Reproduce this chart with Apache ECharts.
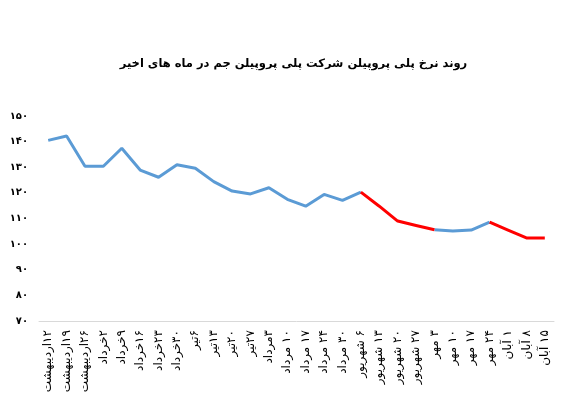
<!DOCTYPE html>
<html>
<head>
<meta charset="utf-8">
<script src="https://cdn.jsdelivr.net/npm/echarts@6/dist/echarts.min.js"></script>
<style>
html, body { margin: 0; padding: 0; background: #fff; }
#chart { width: 587px; height: 397px; }
</style>
</head>
<body>
<div id="chart"></div>
<script>
var categories = ['۱۲اردیبهشت', '۱۹اردیبهشت', '۲۶اردیبهشت', '۲خرداد', '۹خرداد', '۱۶خرداد', '۲۳خرداد', '۳۰خرداد',
    '۶تیر', '۱۳تیر', '۲۰تیر', '۲۷تیر', '۳مرداد', '۱۰ مرداد', '۱۷ مرداد', '۲۴ مرداد', '۳۰ مرداد',
    '۶ شهریور', '۱۳ شهریور', '۲۰ شهریور', '۲۷ شهریور', '۳ مهر', '۱۰ مهر', '۱۷ مهر', '۲۴ مهر',
    '۱ آبان', '۸ آبان', '۱۵ آبان'];
var prices = [140.5, 142.2, 130.4, 130.4, 137.4, 128.9, 126.1, 131.0, 129.6, 124.4, 120.7, 119.6, 122.0, 117.5,
    114.8, 119.4, 117.1, 120.3, 114.8, 109.0, 107.3, 105.6, 105.1, 105.5, 108.6, 105.5, 102.4, 102.4];
// بازه‌های قرمز (اندیس شروع و پایان)
var redRanges = [[17, 21], [24, 27]];

function isRed(i) {
    return redRanges.some(function (r) { return i >= r[0] && i <= r[1]; });
}
function inRedSeg(i) {
    return redRanges.some(function (r) { return i > r[0] && i < r[1]; });
}
var blueData = prices.map(function (v, i) { return inRedSeg(i) ? null : v; });
var redData = prices.map(function (v, i) { return isRed(i) ? v : null; });

function faNum(n) {
    return String(n).replace(/\d/g, function (d) { return '۰۱۲۳۴۵۶۷۸۹'[d]; });
}

var chart = echarts.init(document.getElementById('chart'));
var option = {
    animation: false,
    textStyle: { fontFamily: 'DejaVu Sans' },
    title: {
        text: 'روند نرخ پلی پروپیلن شرکت پلی پروپیلن جم در ماه های اخیر',
        left: 'center',
        top: 53,
        textStyle: { fontSize: 11.5, fontWeight: 'bold', color: '#000', fontFamily: 'DejaVu Sans' }
    },
    grid: { left: 39, right: 33, top: 116, bottom: 76 },
    xAxis: {
        type: 'category',
        data: categories,
        axisLine: { lineStyle: { color: '#d9d9d9' } },
        axisTick: { show: false },
        axisLabel: {
            rotate: 90, interval: 0, fontSize: 12, color: '#000', margin: 9,
            formatter: function (v) { return '\u200F' + v; }
        }
    },
    yAxis: {
        type: 'value',
        min: 70,
        max: 150,
        interval: 10,
        splitLine: { show: false },
        axisLine: { show: false },
        axisTick: { show: false },
        axisLabel: { fontSize: 10, color: '#000', margin: 11, fontWeight: 'bold', formatter: faNum }
    },
    series: [
        {
            type: 'line',
            data: blueData,
            symbol: 'none',
            lineStyle: { color: '#5B9BD5', width: 3 }
        },
        {
            type: 'line',
            data: redData,
            symbol: 'none',
            lineStyle: { color: '#FF0000', width: 3 }
        }
    ]
};
chart.setOption(option);
</script>
</body>
</html>
